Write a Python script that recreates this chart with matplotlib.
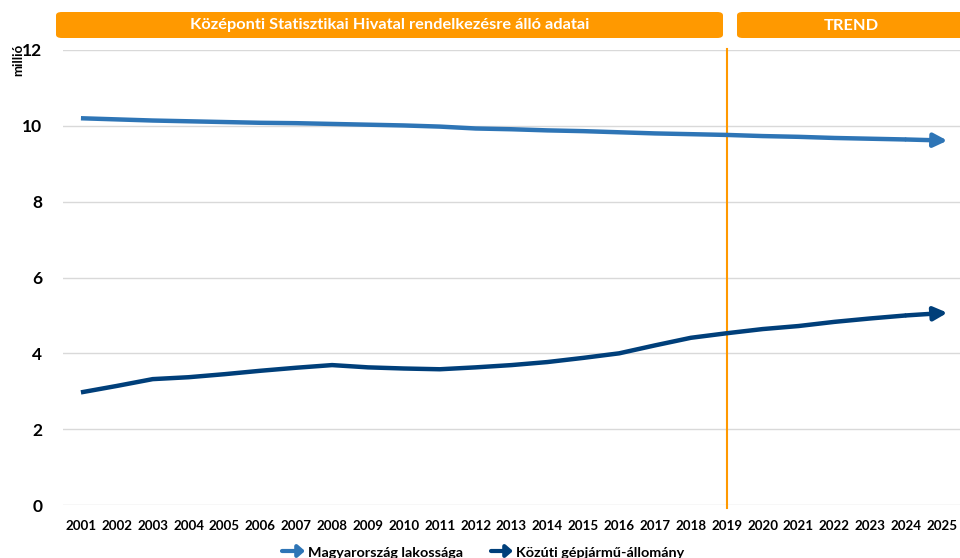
import matplotlib
matplotlib.use('Agg')
import matplotlib.pyplot as plt
from matplotlib.patches import FancyBboxPatch, FancyArrowPatch

years = [str(y) for y in range(2001, 2026)]
lakossag = [10.20, 10.17, 10.14, 10.12, 10.10, 10.08, 10.07, 10.05, 10.03, 10.01,
            9.98, 9.93, 9.91, 9.88, 9.86, 9.83, 9.80, 9.78, 9.76, 9.73,
            9.71, 9.68, 9.66, 9.64, 9.61]
gepjarmu = [2.97, 3.14, 3.32, 3.37, 3.45, 3.54, 3.62, 3.69, 3.63, 3.60,
            3.58, 3.63, 3.69, 3.77, 3.88, 4.00, 4.21, 4.41, 4.53, 4.64,
            4.72, 4.83, 4.92, 5.00, 5.07]
yticks = [0, 2, 4, 6, 8, 10, 12]

C_POP = '#2E75B6'
C_CAR = '#003F7A'
C_ORANGE = '#FF9900'
plt.rcParams['font.family'] = ['Lato', 'DejaVu Sans']

W, H = 960, 558
fig = plt.figure(figsize=(W / 100, H / 100), dpi=100)
ax = fig.add_axes([63 / W, 1 - 505 / H, 1 - 63 / W, (505 - 50) / H])

x = list(range(len(years)))
for vals, col in [(lakossag, C_POP), (gepjarmu, C_CAR)]:
    ax.plot(x[:-1], vals[:-1], color=col, lw=3.2, solid_capstyle='butt', zorder=3)
    ax.annotate('', xy=(x[-1] + 0.15, vals[-1]), xytext=(x[-2], vals[-2]),
                arrowprops=dict(arrowstyle='-|>,head_length=0.8,head_width=0.4',
                                color=col, lw=3.2, shrinkA=0, shrinkB=0), zorder=3)

ax.set_xlim(-0.5, len(years) - 0.5)
ax.set_ylim(0, 12)
ax.set_yticks(yticks)
ax.set_xticks(x)
ax.set_xticklabels(years)
for s in ax.spines.values():
    s.set_visible(False)
ax.grid(axis='y', color='#D9D9D9', lw=1)
ax.set_axisbelow(True)
ax.tick_params(length=0)
ax.tick_params(axis='y', pad=15, labelsize=12.5)
ax.tick_params(axis='x', pad=11, labelsize=9.6)
for t in ax.get_xticklabels() + ax.get_yticklabels():
    t.set_fontweight('bold')

ax.axvline(years.index('2019'), ymin=-0.007, ymax=1.003, color=C_ORANGE, lw=1.5,
           clip_on=False, zorder=2)

fig.text(18 / W, 1 - 60 / H, 'millió', rotation=90, ha='center', va='center',
         fontsize=9.5, fontweight='bold')

# header boxes
for x0, x1, label in [(56, 723, 'Középonti Statisztikai Hivatal rendelkezésre álló adatai'),
                      (737, 975, 'TREND')]:
    box = FancyBboxPatch((x0 / W, 1 - 38 / H), (x1 - x0) / W, 26 / H,
                         boxstyle='round,pad=0,rounding_size=0.006',
                         transform=fig.transFigure, facecolor=C_ORANGE,
                         edgecolor='none')
    fig.add_artist(box)
    cx = (x0 + min(x1, 965)) / 2
    fig.text(cx / W, 1 - 25.5 / H, label, ha='center', va='center',
             color='white', fontsize=11.8, fontweight='bold')

# legend
for ax0, ax1, col, label in [(282, 305, C_POP, 'Magyarország lakossága'),
                             (491, 513, C_CAR, 'Közúti gépjármű-állomány')]:
    arr = FancyArrowPatch((ax0 / W, 1 - 551 / H), (ax1 / W, 1 - 551 / H),
                          transform=fig.transFigure,
                          arrowstyle='-|>,head_length=4,head_width=3.5',
                          color=col, lw=3, shrinkA=0, shrinkB=0)
    fig.add_artist(arr)
    fig.text((ax1 + 3) / W, 1 - 553 / H, label, ha='left', va='center',
             fontsize=10.4, fontweight='bold')

fig.savefig('out.png', dpi=100, facecolor='white')
